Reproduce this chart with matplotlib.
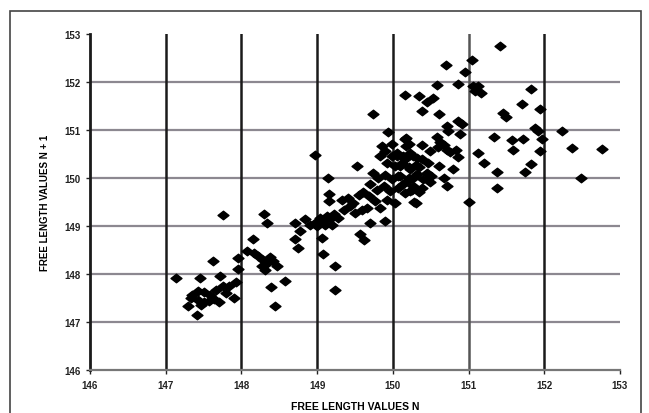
import numpy as np
import matplotlib.pyplot as plt
from matplotlib.path import Path
from matplotlib.patches import Rectangle

# free length of spring N (x) against spring N + 1 (y)
xn = [
    # lower-left group
    148.15, 147.96, 147.62, 147.96, 147.13, 147.45, 147.72, 147.93, 147.84, 147.75,
    147.66, 147.59, 147.51, 147.42, 147.35, 147.33, 147.42, 147.51, 147.57,
    147.70, 147.90, 147.30, 147.41, 147.79, 147.64, 147.46, 147.75, 148.45,
    # 148 - 149
    149.14, 149.15, 149.15, 148.30, 148.34, 148.71, 148.84, 148.91, 148.97,
    149.04, 149.08, 149.13, 149.17, 149.22, 149.11, 149.19, 148.78, 148.71,
    148.75, 149.07, 149.08, 149.24, 148.07, 148.16, 148.22, 148.29,
    148.33, 148.38, 148.42, 148.31, 148.27, 148.47, 148.58, 148.39, 149.24,
    # 149 - 150
    149.94, 149.85, 149.99, 150.18, 150.21, 149.52, 149.33, 149.41, 149.48,
    149.59, 149.83, 150.30, 149.70, 149.90, 149.28, 149.35, 149.44, 149.50,
    149.00, 149.57, 149.62, 148.97, 149.74, 149.60, 149.55,
    149.83, 149.90, 149.99, 150.05, 150.14, 150.23, 150.32, 149.92, 150.03,
    150.12, 150.21, 150.30, 149.74, 149.81, 149.90, 149.99, 150.10, 150.19,
    150.27, 149.70, 149.79, 149.88, 149.96, 150.07, 150.16, 150.25, 149.68,
    149.77, 149.92, 149.66, 150.03,
    # 150 - 151
    150.05, 150.16, 150.27, 150.38, 150.47, 150.10, 150.23, 150.34, 150.45,
    150.07, 150.21, 150.32, 150.40, 150.51, 150.14, 150.27, 150.38, 150.49,
    150.23, 150.34,
    150.70, 150.95, 150.58, 150.86, 151.06, 151.13, 151.17, 151.08, 150.16,
    150.35, 150.45, 150.53, 150.39, 150.61, 150.86, 150.91, 150.71, 150.73,
    150.89, 150.58, 150.62, 150.67, 150.71, 150.60, 150.75, 150.84, 150.86,
    150.38, 150.49, 150.16, 150.18, 151.13, 151.21, 150.61, 150.80, 150.67,
    150.71, 150.28, 151.00,
    # 151 - 153
    151.41, 151.05, 151.82, 151.70, 151.46, 151.49, 151.95, 151.88, 151.92,
    151.97, 151.33, 151.57, 151.72, 151.59, 151.95, 151.37, 151.82, 151.74,
    151.37, 152.23, 152.37, 152.76, 152.49,
]
yn1 = [
    148.73, 148.34, 148.28, 148.10, 147.91, 147.92, 147.96, 147.84, 147.74, 147.74,
    147.67, 147.56, 147.63, 147.65, 147.56, 147.51, 147.46, 147.42, 147.44,
    147.42, 147.51, 147.33, 147.14, 147.60, 147.48, 147.35, 149.23, 147.33,
    149.99, 149.66, 149.52, 149.24, 149.07, 149.07, 149.14, 149.03, 149.07,
    149.17, 149.10, 149.21, 149.14, 149.24, 149.03, 149.03, 148.89, 148.72,
    148.55, 148.75, 148.41, 148.16, 148.48, 148.44, 148.37, 148.30,
    148.20, 148.36, 148.27, 148.09, 148.16, 148.16, 147.85, 147.73, 147.66,
    150.96, 150.67, 150.70, 150.84, 150.70, 150.26, 149.55, 149.59, 149.48,
    149.34, 149.38, 149.48, 149.07, 149.10, 149.17, 149.34, 149.41, 149.27,
    149.00, 148.84, 148.71, 150.47, 151.34, 149.70, 149.65,
    150.46, 150.56, 150.46, 150.53, 150.46, 150.53, 150.42, 150.32, 150.25,
    150.32, 150.22, 150.28, 150.11, 150.00, 150.07, 149.97, 150.04, 149.94,
    150.00, 149.87, 149.76, 149.83, 149.72, 149.79, 149.69, 149.76, 149.62,
    149.52, 149.55, 149.38, 149.48,
    150.46, 150.39, 150.46, 150.39, 150.32, 150.25, 150.18, 150.22, 150.11,
    150.04, 150.01, 150.08, 149.97, 150.04, 149.87, 149.84, 149.80, 149.91,
    149.73, 149.70,
    152.35, 152.20, 151.94, 151.96, 151.92, 151.91, 151.78, 151.82, 151.73,
    151.70, 151.58, 151.66, 151.40, 151.33, 151.19, 151.12, 151.09, 150.98,
    150.91, 150.85, 150.75, 150.68, 150.58, 150.64, 150.55, 150.58, 150.44,
    150.68, 150.57, 150.81, 150.66, 150.53, 150.32, 150.24, 150.18, 150.01,
    149.84, 149.49, 149.49,
    152.74, 152.46, 151.85, 151.54, 151.35, 151.28, 151.43, 151.05, 150.98,
    150.81, 150.86, 150.79, 150.82, 150.59, 150.56, 150.13, 150.29, 150.13,
    149.79, 150.97, 150.63, 150.60, 149.99,
]

ticks = [146, 147, 148, 149, 150, 151, 152, 153]
yticks = [146, 147, 148, 149, 150, 151, 152, 153]

plt.rcParams['font.family'] = ['Liberation Sans', 'DejaVu Sans']

fig = plt.figure(figsize=(6.49, 4.14), dpi=100)
ax = fig.add_axes([90/649, 43/414, 530/649, 336/414])

# wide flat diamond like the scanned markers
diamond = Path([(-1, 0), (0, 0.78), (1, 0), (0, -0.78), (-1, 0)],
               [Path.MOVETO, Path.LINETO, Path.LINETO, Path.LINETO, Path.CLOSEPOLY])

for v in yticks[1:-1]:
    ax.axhline(v, color='#8c8890', lw=1.6, zorder=1)
for v in ticks[1:-1]:
    ax.axvline(v, color='#555555' if v == 151 else '#1a1a1a', lw=1.8, zorder=1)

ax.scatter(xn, yn1, marker=diamond, s=62, color='black', zorder=3)

ax.set_xlim(146, 153)
ax.set_ylim(146, 153)
ax.set_xticks(ticks)
ax.set_yticks(yticks)
ax.tick_params(labelsize=7, length=3, width=1, pad=4, colors='#222222')
for lab in ax.get_xticklabels() + ax.get_yticklabels():
    lab.set_fontweight('bold')

for s in ['top', 'right']:
    ax.spines[s].set_visible(False)
ax.spines['left'].set_color('#1a1a1a')
ax.spines['left'].set_linewidth(2)
ax.spines['bottom'].set_color('#777777')
ax.spines['bottom'].set_linewidth(1.6)

ax.set_xlabel('FREE LENGTH VALUES N', fontsize=7.5, fontweight='bold', labelpad=8)
ax.set_ylabel('FREE LENGTH VALUES N + 1', fontsize=7, fontweight='bold', labelpad=10)

# outer frame of the scanned figure
fig.patches.append(Rectangle((10/649, -0.05), 631/649, (414 - 12)/414 + 0.05,
                             transform=fig.transFigure, fill=False,
                             edgecolor='#444444', lw=1.2))

fig.savefig('out.png', dpi=100)
